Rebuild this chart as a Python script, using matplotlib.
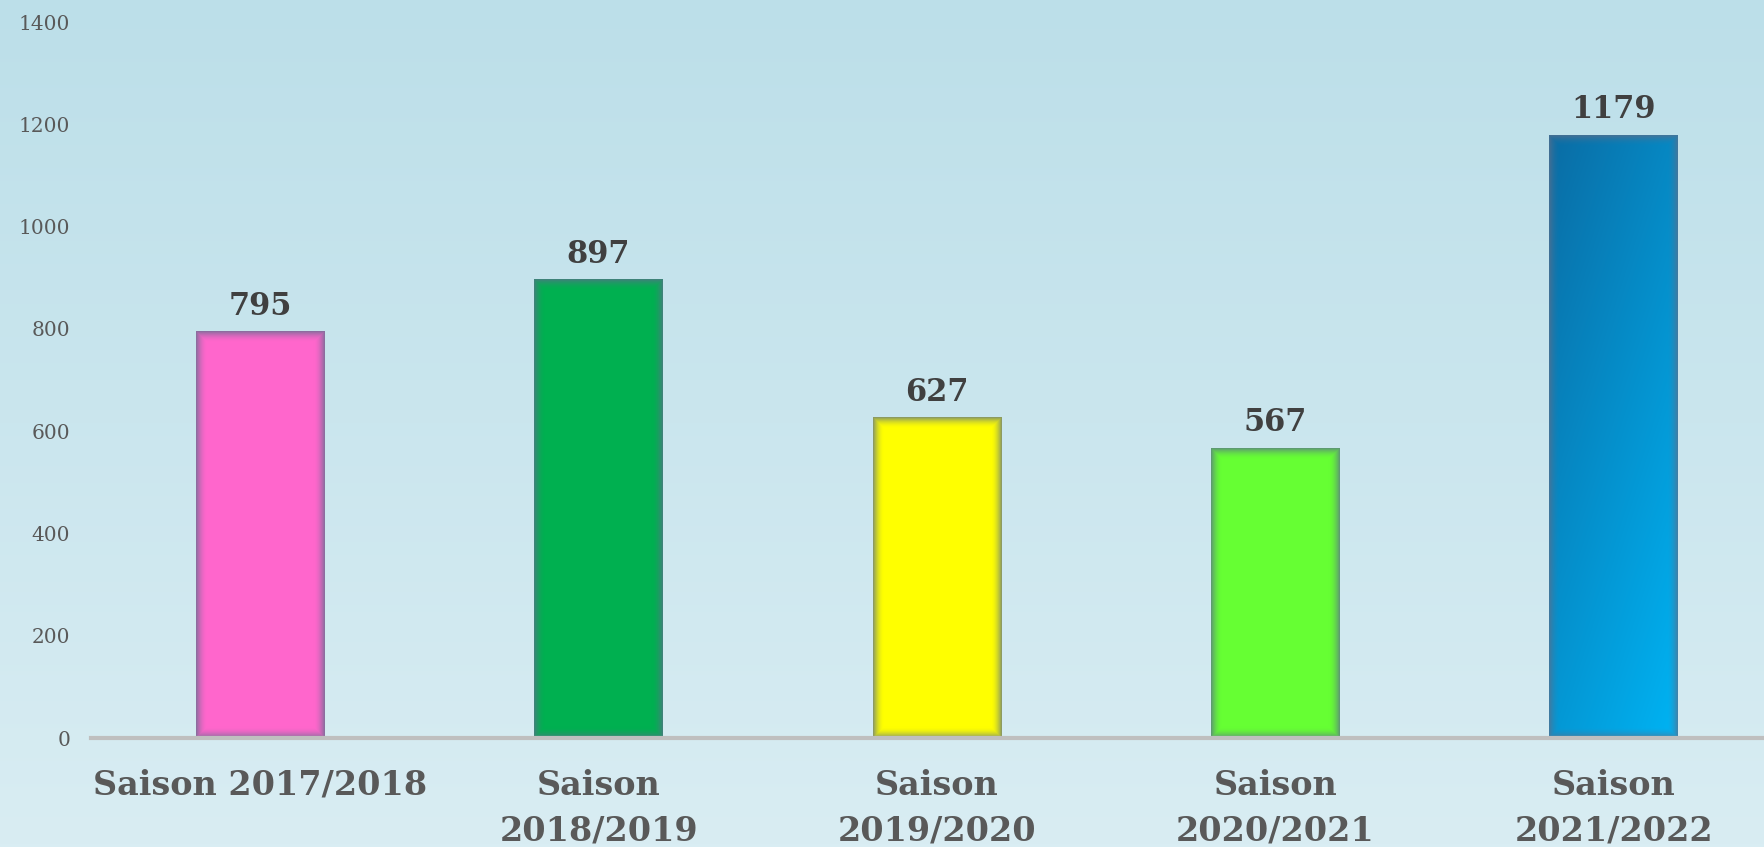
import numpy as np
import matplotlib
matplotlib.use('Agg')
import matplotlib.pyplot as plt
from matplotlib.colors import to_rgb

seasons = ['Saison 2017/2018', 'Saison\n2018/2019', 'Saison\n2019/2020',
           'Saison\n2020/2021', 'Saison\n2021/2022']
values = [795, 897, 627, 567, 1179]
face_colors = ['#ff66cc', '#00b050', '#ffff00', '#66ff33', '#0a9ad8']
yticks = [0, 200, 400, 600, 800, 1000, 1200, 1400]

W, H = 1764, 847
fig = plt.figure(figsize=(W / 100, H / 100), dpi=100)

# background gradient
bg = fig.add_axes([0, 0, 1, 1])
top = np.array(to_rgb('#bcdfe9'))
bot = np.array(to_rgb('#d9edf3'))
t = np.linspace(0, 1, 256)[:, None, None]
grad = top * (1 - t) + bot * t
bg.imshow(np.repeat(grad, 2, axis=1), aspect='auto', extent=(0, 1, 0, 1))
bg.set_axis_off()

ax = fig.add_axes([91 / W, (H - 738) / H, (W - 91) / W, (738 - 22) / H])
ax.patch.set_alpha(0)
x = np.arange(len(values))
bars = ax.bar(x, values, width=0.38, color=face_colors, zorder=2)
ax.set_xlim(-0.5, 4.5 - 19 / 339)
ax.set_ylim(0, 1400)
fig.canvas.draw()

glow_col = np.array(to_rgb('#5a6f8c'))
for i, bar in enumerate(bars):
    x0, y0, w, h = bar.get_x(), bar.get_y(), bar.get_width(), bar.get_height()
    p0 = ax.transData.transform((x0, y0))
    p1 = ax.transData.transform((x0 + w, y0 + h))
    wpx = int(round(p1[0] - p0[0]))
    hpx = int(round(p1[1] - p0[1]))
    yy, xx = np.mgrid[0:hpx, 0:wpx] + 0.5
    if i == 4:
        u = xx / wpx
        v = yy / hpx  # 0 at top
        s = np.clip(0.4 * u + 0.6 * v, 0, 1)[..., None]
        c_tl = np.array(to_rgb('#0a6ca4'))
        c_br = np.array(to_rgb('#00b4f4'))
        base = c_tl * (1 - s) + c_br * s
    else:
        base = np.ones((hpx, wpx, 3)) * np.array(to_rgb(face_colors[i]))
    d = np.minimum.reduce([xx, wpx - xx, yy, hpx - yy])
    a = np.clip(1 - d / 11.0, 0, 1) ** 1.8 * 0.75
    img = base * (1 - a[..., None]) + glow_col * a[..., None]
    ax.imshow(img, extent=(x0, x0 + w, y0, y0 + h), aspect='auto',
              interpolation='bilinear', zorder=3)
    bar.set_visible(False)
    ax.annotate(str(values[i]), (x[i], values[i]), xytext=(0, 7),
                textcoords='offset points', ha='center', va='bottom',
                fontsize=22, fontweight='bold', family='DejaVu Serif',
                color='#404040', zorder=5)

ax.set_xlim(-0.5, 4.5 - 19 / 339)
ax.set_ylim(0, 1400)
for s in ['top', 'right', 'left']:
    ax.spines[s].set_visible(False)
ax.spines['bottom'].set_color('#bfbfbf')
ax.spines['bottom'].set_linewidth(3)
ax.spines['bottom'].set_zorder(4)
ax.set_yticks(yticks)
ax.set_yticklabels([str(v) for v in yticks], fontsize=14.5, family='DejaVu Serif',
                   color='#595959')
ax.tick_params(axis='y', length=0, pad=15)
ax.set_xticks(x)
ax.set_xticklabels(seasons, fontsize=24, fontweight='bold', family='DejaVu Serif',
                   color='#595959', linespacing=1.5)
ax.tick_params(axis='x', length=0, pad=22)

fig.savefig('out.png', dpi=100)
